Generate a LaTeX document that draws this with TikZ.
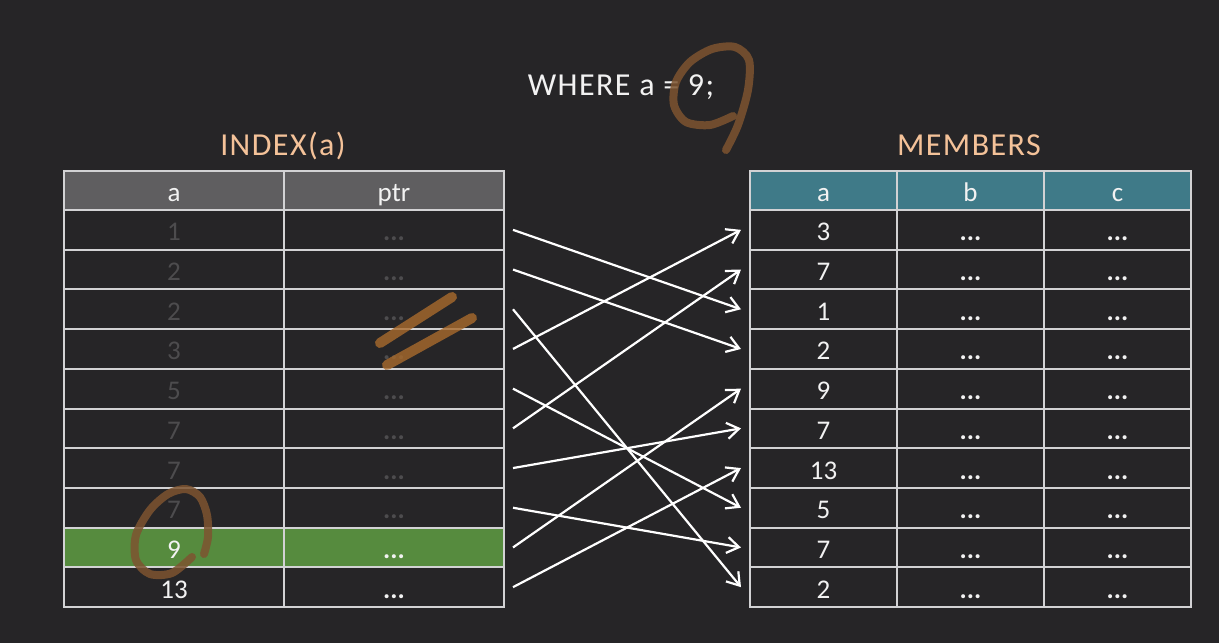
\documentclass[tikz,border=0pt]{standalone}
\usepackage{fontspec}
\setmainfont{Carlito}
\newfontfamily\widefont[LetterSpace=4.5]{Carlito}
\usetikzlibrary{arrows.meta}
\definecolor{bgc}{HTML}{262527}
\definecolor{gridc}{HTML}{D2D2D4}
\definecolor{grayhead}{HTML}{5F5E60}
\definecolor{tealhead}{HTML}{3F7A88}
\definecolor{greenc}{HTML}{568B3E}
\definecolor{peach}{HTML}{F4C299}
\definecolor{dimc}{HTML}{4D4C4E}
\definecolor{txtc}{HTML}{F2F2F2}
\definecolor{brownc}{HTML}{7D5430}
\definecolor{orangec}{HTML}{A86A2C}
\begin{document}
\begin{tikzpicture}[x=1pt,y=-1pt,
  cell/.style={draw=gridc, line width=2pt, inner sep=0pt, minimum height=39.7pt,
    text height=22pt, text depth=0pt, anchor=north west, font=\fontsize{27}{30}\selectfont},
  headrow/.style={cell, minimum height=39pt},
  dimrow/.style={text=dimc},
  selrow/.style={fill=greenc, text=txtc},
  plainrow/.style={text=txtc},
  label/.style={anchor=base, text=peach, font=\widefont\fontsize{32}{35}\selectfont},
  arr/.style={draw=white, line width=2.2pt, -{Straight Barb[length=12pt,width=16pt]}},
  scribA/.style={draw=brownc, line width=8pt, line cap=round, line join=round, opacity=0.85},
  scribB/.style={draw=orangec, line width=10pt, line cap=round, opacity=0.8},
]
\fill[bgc] (0,0) rectangle (1219,643);
\useasboundingbox (0,0) rectangle (1219,643);

% titles
\node[anchor=base, text=txtc, font=\widefont\fontsize{32}{35}\selectfont] (title) at (621,95) {WHERE a = 9;};
\node[label] (idx) at (283,155) {INDEX(a)};
\node[label] (mem) at (969,155) {MEMBERS};

% left table
\node[headrow, fill=grayhead, text=txtc, minimum width=220pt] (LHa) at (63,170) {a};
\node[headrow, fill=grayhead, text=txtc, minimum width=220pt] (LHp) at (283,170) {ptr};
\foreach \i/\v/\s in {1/1/dimrow,2/2/dimrow,3/2/dimrow,4/3/dimrow,5/5/dimrow,6/7/dimrow,7/7/dimrow,8/7/dimrow,9/9/selrow,10/13/plainrow}{
  \node[cell,\s,minimum width=220pt] (L\i) at (63,{209+39.7*(\i-1)}) {\v};
  \node[cell,\s,minimum width=220pt] (P\i) at (283,{209+39.7*(\i-1)}) {\textbf{...}};
}

% right table
\node[headrow, fill=tealhead, text=txtc, minimum width=147pt] (RHa) at (749,170) {a};
\node[headrow, fill=tealhead, text=txtc, minimum width=147pt] (RHb) at (896,170) {b};
\node[headrow, fill=tealhead, text=txtc, minimum width=147pt] (RHc) at (1043,170) {c};
\foreach \i/\v in {1/3,2/7,3/1,4/2,5/9,6/7,7/13,8/5,9/7,10/2}{
  \node[cell,plainrow,minimum width=147pt] (R\i) at (749,{209+39.7*(\i-1)}) {\v};
  \node[cell,plainrow,minimum width=147pt] (B\i) at (896,{209+39.7*(\i-1)}) {\textbf{...}};
  \node[cell,plainrow,minimum width=147pt] (C\i) at (1043,{209+39.7*(\i-1)}) {\textbf{...}};
}

% pointers
\foreach \a/\b in {1/3,2/4,3/10,4/1,5/8,6/2,7/6,8/9,9/5,10/7}{
  \draw[arr] ([xshift=8pt]P\a.east) -- ([xshift=-8pt]R\b.west);
}

% hand-drawn annotations
\draw[scribA] plot[smooth] coordinates {(733,116) (710,125) (686,122) (674,105) (676,82) (690,62) (712,49) (735,47) (749,60) (748,90) (738,125) (726,150)};
\draw[scribB] (380,343) -- (452,297);
\draw[scribB] (387,365) -- (472,318);
\draw[scribA] plot[smooth] coordinates {(192,557) (172,573) (150,574) (136,560) (136,535) (150,510) (168,494) (186,489) (200,497) (207,515) (208,537) (204,554)};
\end{tikzpicture}
\end{document}
